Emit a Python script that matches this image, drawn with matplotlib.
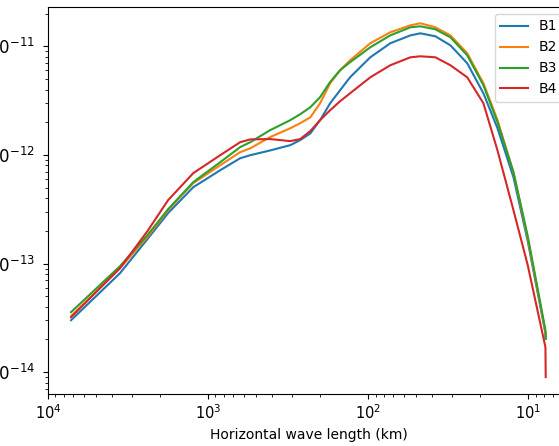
import matplotlib
matplotlib.use("Agg")
import matplotlib.pyplot as plt

# horizontal wave length (km)
wavelength = [7180, 3550, 2370, 1780, 1240, 841, 631, 546, 410, 307, 266, 230, 200, 173,
              150, 130, 97.2, 72.9, 54.6, 47.3, 38.1, 30.7, 24.1, 19.1, 15.6, 12.4, 10.1,
              7.83, 7.8]

b1 = [3.01e-14, 8.16e-14, 1.71e-13, 2.91e-13, 5.04e-13, 7.23e-13, 9.32e-13, 9.94e-13,
      1.10e-12, 1.23e-12, 1.37e-12, 1.58e-12, 2.09e-12, 2.99e-12, 3.94e-12, 5.18e-12,
      7.92e-12, 1.066e-11, 1.26e-11, 1.317e-11, 1.236e-11, 1.021e-11, 6.98e-12, 3.69e-12,
      1.76e-12, 6.23e-13, 1.61e-13, 2.29e-14, 2.06e-14]
b2 = [3.28e-14, 9.07e-14, 1.79e-13, 3.10e-13, 5.49e-13, 8.04e-13, 1.06e-12, 1.15e-12,
      1.46e-12, 1.76e-12, 1.96e-12, 2.22e-12, 2.99e-12, 4.57e-12, 6.02e-12, 7.43e-12,
      1.066e-11, 1.345e-11, 1.56e-11, 1.63e-11, 1.496e-11, 1.26e-11, 8.62e-12, 4.57e-12,
      2.09e-12, 6.93e-13, 1.71e-13, 2.34e-14, 2.10e-14]
b3 = [3.57e-14, 9.46e-14, 1.86e-13, 3.16e-13, 5.61e-13, 8.57e-13, 1.18e-12, 1.31e-12,
      1.69e-12, 2.09e-12, 2.37e-12, 2.75e-12, 3.40e-12, 4.70e-12, 6.02e-12, 7.13e-12,
      9.79e-12, 1.26e-11, 1.496e-11, 1.528e-11, 1.433e-11, 1.21e-11, 8.26e-12, 4.38e-12,
      2.00e-12, 6.93e-13, 1.79e-13, 2.44e-14, 2.02e-14]
b4 = [3.21e-14, 9.07e-14, 2.03e-13, 3.83e-13, 6.79e-13, 9.94e-13, 1.31e-12, 1.39e-12,
      1.40e-12, 1.34e-12, 1.40e-12, 1.66e-12, 2.09e-12, 2.58e-12, 3.12e-12, 3.69e-12,
      5.18e-12, 6.69e-12, 7.92e-12, 8.09e-12, 7.92e-12, 6.69e-12, 5.18e-12, 2.99e-12,
      1.10e-12, 3.10e-13, 9.67e-14, 1.70e-14, 9.0e-15]

series = [("B1", b1), ("B2", b2), ("B3", b3), ("B4", b4)]

fig = plt.figure(figsize=(5.59, 4.46), dpi=100)
# axes run past the right edge of the picture, as in the reference crop
ax = fig.add_axes([48/559, 52/446, 522/559, 387/446])

for name, vals in series:
    ax.plot(wavelength, vals, label=name)

ax.set_xscale("log")
ax.set_yscale("log")
ax.set_xlim(1e4, 5.5)
ax.set_ylim(6.3e-15, 2.3e-11)
ax.set_xlabel("Horizontal wave length (km)")
ax.tick_params(axis="y", labelsize=12, pad=6)
ax.tick_params(axis="x", labelsize=10.5)
ax.legend(loc="upper right")

fig.savefig("out.png", dpi=100)
